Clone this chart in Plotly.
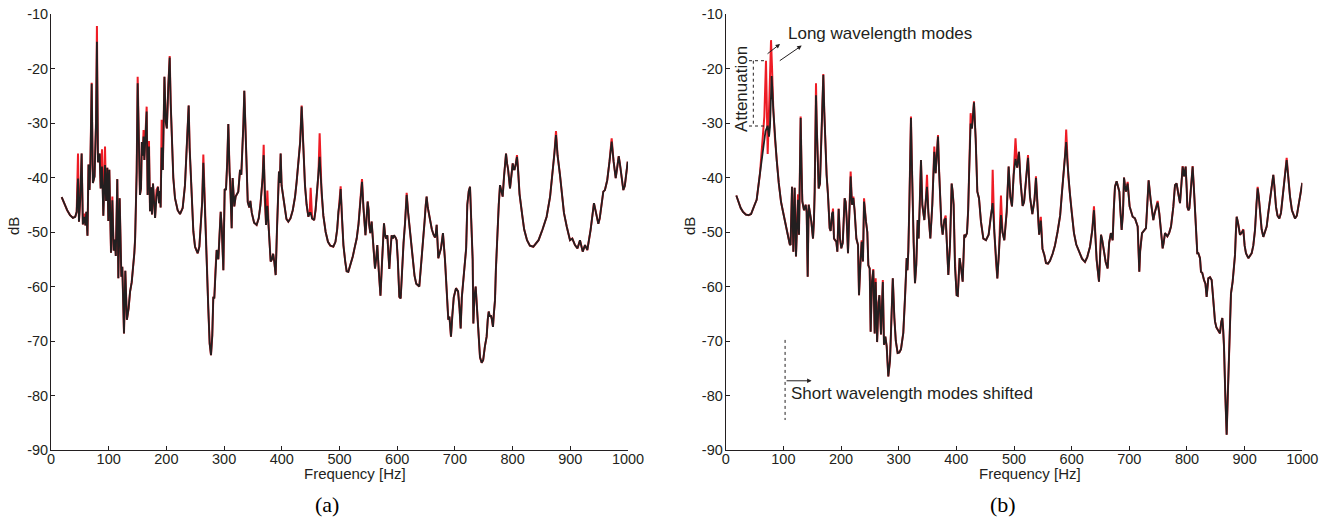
import plotly.graph_objects as go

# ---------------- Data: panel (a) ----------------
freq_a = [18.5, 23, 28, 33, 38, 42, 44.5, 46.8, 48.5, 50.5, 53.1, 55.2, 57.8, 59.6, 61.3, 63.2, 65.0, 66.8, 68.3,
          70.5, 72.6, 75.5, 78.0, 79.6, 81.4, 84.3, 86.1, 88.4, 90.7, 93.6, 95.5, 97.6, 99.4, 101.1, 104.0, 106.3,
          108.6, 110.9, 112.3, 114.9, 116.7, 119.0, 121.9, 123.6, 126.5, 128.8, 131.5, 134.5, 137.0, 139.9, 141.5,
          144.4, 145.8, 147.2, 148.5, 150.2, 152.5, 154.2, 156.0, 157.4, 159.0, 160.4, 161.8, 163.5, 165.8, 167.5,
          169.8, 171.6, 173.4, 175.0, 176.8, 178.4, 180.4, 182.8, 185.4, 187.2, 189.0, 190.0, 191.8, 193.8, 196.6,
          198.9, 200.8, 203.4, 205.7, 207.5, 209.1, 212, 214.9, 219.5, 223.6, 228.2, 232.2, 235.7, 238.6, 240.3,
          243.8, 246.7, 249.6, 254.2, 257.1, 259.4, 262.0, 264.0, 266.9, 270.5, 272.6, 275.0, 277.3, 279.5, 281.3,
          283.0, 285.0, 287.1, 290.0, 292.0, 294.1, 296.0, 298.7, 301.0, 303.3, 305.5, 307.3, 309.5, 310.5, 313.1,
          314.8, 317.7, 320.0, 324.6, 327.6, 329.8, 331.5, 333.5, 335.0, 336.8, 339.0, 341.0, 343.7, 345.5, 348,
          352, 356.4, 360, 363, 365.0, 366.8, 368.6, 370.5, 372.7, 375.0, 377, 378.5, 380.7, 383, 385.0, 387,
          389.4, 391.5, 393, 395.1, 396.6, 398.0, 399.7, 402.6, 405, 408, 411.3, 415, 419, 423, 425.7, 429, 431.8,
          434.4, 436.5, 438.5, 440.2, 443, 446, 448.4, 450.0, 452.5, 456.1, 458.5, 461.3, 463.5, 465.6, 467.5,
          469.0, 472, 476, 480, 484, 489.3, 493, 496, 498.0, 500.3, 502.0, 504, 506.8, 510, 512.4, 515.3, 519,
          523, 526, 529.8, 533, 535.5, 537.5, 539.0, 541.5, 543, 545.0, 547.5, 548.8, 550.5, 551.5, 553.4, 555.7,
          558.6, 561.5, 563.5, 565.5, 568, 571.0, 573.5, 575.5, 577.1, 579, 580.6, 582.9, 584.5, 586.3, 588.5,
          590.4, 592.5, 594.4, 597, 599.0, 601, 603.7, 606.0, 608.5, 611, 613.5, 616.4, 619, 621.0, 624, 626.8,
          630, 633, 636, 638.3, 641, 643.5, 645.3, 647.5, 649.5, 651.0, 653, 656.8, 660, 663, 665.5, 667.0, 668.4,
          670, 671.2, 675.9, 679.3, 682.8, 685.5, 688.6, 690.5, 693.2, 695.5, 698, 701.9, 705.5, 708, 710.0, 712,
          714.0, 716.5, 719.5, 721.5, 724, 726.2, 728.5, 730.8, 732.0, 733.8, 736.0, 738.5, 741, 743.5, 746.4,
          749, 752, 755.0, 757, 758.6, 760.5, 762.5, 764, 766.0, 767.5, 769.5, 771, 772.4, 774, 776, 778.2, 780.5,
          782.8, 785, 788.6, 790.5, 792.1, 795.5, 797.5, 800.2, 802, 803.5, 805.5, 807.6, 809.5, 812, 816.8, 820,
          825, 830, 835.9, 842, 845, 852, 859, 865, 869.4, 872.5, 875.2, 878, 882.1, 886, 889, 893.8, 896.5,
          899.5, 903.5, 908.1, 912.5, 916.8, 921.5, 925.5, 929.5, 935.2, 941.0, 944.5, 948.6, 951, 955, 957.2,
          960, 964, 968, 971.7, 975, 978.7, 981.5, 983.9, 986, 988.5, 991.9, 994.5, 997, 999.5]
db_a = [-43.6, -44.9, -46.0, -46.9, -47.4, -47.2, -46.3, -40.2, -48.1, -44.3, -35.6, -48.6, -47.2, -48.8, -46.3, -50.7,
        -37.6, -42.3, -37.4, -22.8, -41.0, -39.8, -30.0, -15.1, -37.2, -35.6, -42.0, -38.0, -47.0, -37.7, -44.3,
        -38.2, -48.0, -38.6, -53.8, -44.2, -53.4, -51.4, -54.4, -40.3, -58.5, -43.8, -58.2, -56.4, -68.6, -57.1,
        -66.1, -64.0, -61.0, -59.2, -57.5, -53.9, -51.2, -45.5, -38.9, -22.7, -38.0, -43.2, -42.0, -33.5, -36.0,
        -32.5, -36.8, -33.5, -27.9, -43.2, -34.3, -46.2, -41.8, -46.8, -41.1, -44.0, -47.4, -43.5, -41.7, -44.7,
        -42.5, -45.5, -34.5, -38.6, -21.5, -29.8, -31.0, -23.0, -18.0, -26.5, -32.8, -40.1, -43.8, -46.0, -46.7,
        -45.6, -41.4, -34.0, -26.8, -34.6, -43.8, -49.9, -52.7, -53.9, -52.7, -48.7, -44.5, -37.3, -47.5, -57.0,
        -64.0, -70.5, -72.6, -69.0, -61.9, -62.2, -57.0, -53.3, -55.0, -50.0, -46.3, -49.2, -57.0, -42.1, -42.3,
        -37.0, -30.2, -39.0, -40.8, -49.3, -40.1, -45.3, -43.5, -42.6, -38.6, -39.5, -36.0, -30.0, -24.1, -31.0,
        -40.4, -44.5, -45.5, -44.3, -46.5, -48.3, -48.7, -47.5, -45.0, -42.6, -40.0, -35.9, -44.0, -48.7, -45.2,
        -48.5, -52.0, -55.4, -55.0, -54.0, -55.5, -57.9, -50.0, -44.5, -38.9, -41.0, -35.6, -41.5, -43.9, -46.0,
        -47.6, -48.1, -47.5, -46.0, -43.5, -40.8, -37.0, -33.5, -27.0, -33.0, -39.0, -41.5, -45.0, -47.2, -46.5,
        -46.5, -47.5, -47.8, -46.0, -42.6, -39.5, -36.2, -40.0, -43.0, -47.0, -50.0, -51.8, -52.5, -52.7, -51.8,
        -49.5, -46.3, -44.5, -42.1, -47.0, -52.4, -55.5, -57.2, -57.3, -56.0, -54.5, -53.0, -51.2, -48.5, -45.5,
        -42.5, -40.8, -45.5, -48.5, -50.6, -46.5, -44.4, -46.0, -48.7, -50.2, -48.1, -52.4, -56.7, -55.0, -52.4,
        -57.0, -61.7, -56.0, -51.0, -48.4, -50.5, -51.2, -50.6, -53.0, -56.8, -53.0, -50.6, -51.2, -50.6, -51.0,
        -51.5, -55.0, -61.9, -62.2, -56.0, -52.0, -48.5, -43.2, -46.5, -48.7, -52.5, -55.1, -58.0, -59.5, -59.9,
        -60.0, -56.5, -52.5, -50.9, -48.0, -45.0, -43.5, -45.5, -48.0, -49.5, -50.5, -51.0, -50.2, -48.7, -52.0,
        -54.8, -53.0, -50.2, -55.1, -61.0, -66.1, -65.5, -69.2, -65.4, -62.0, -60.3, -60.9, -64.0, -67.7, -62.0,
        -59.4, -57.5, -53.0, -45.0, -42.5, -41.7, -48.0, -55.1, -66.8, -62.0, -60.0, -65.0, -70.0, -73.0, -74.0,
        -73.5, -71.0, -69.2, -66.0, -64.6, -65.5, -65.3, -66.0, -67.4, -65.0, -62.5, -57.0, -53.3, -50.0, -45.0,
        -41.4, -42.5, -43.5, -40.0, -35.6, -37.5, -38.4, -42.0, -40.0, -37.4, -38.5, -38.5, -37.5, -36.2, -38.6,
        -43.0, -47.0, -49.5, -51.5, -52.5, -52.7, -52.0, -51.5, -49.5, -47.2, -43.5, -39.2, -35.5, -32.2, -36.0,
        -39.5, -44.0, -46.5, -49.0, -50.5, -51.5, -51.2, -52.4, -53.0, -51.5, -53.6, -52.4, -53.3, -49.6, -44.7,
        -46.5, -48.5, -47.5, -44.5, -42.6, -42.3, -40.5, -37.0, -33.4, -37.0, -40.1, -38.0, -36.1, -37.5, -40.0,
        -42.3, -41.5, -39.5, -37.1]
# red curve peaks (frequency -> dB) where it rises above the black curve
red_peaks_a = {46.8: -35.6, 57.8: -46.6, 70.5: -22.6, 79.6: -12.2, 88.4: -34.8, 93.6: -34.3, 106.3: -43.5,
               150.2: -21.5, 160.4: -31.3, 165.8: -27.0, 169.8: -33.3, 182.8: -42.3, 191.8: -29.4, 205.7: -17.7,
               264.0: -35.8, 368.6: -34.0, 375.0: -42.4, 434.4: -26.8, 450.0: -41.9, 465.6: -31.9, 502.0: -41.6,
               539.0: -40.3, 616.4: -42.8, 807.6: -35.9, 875.2: -31.5, 971.7: -32.8}

# ---------------- Data: panel (b) ----------------
freq_b = [18.4, 22, 26, 30, 35, 39.8, 44, 50.2, 53.7, 59.5, 65.3, 69, 72.8, 75.1, 76.8, 79.7, 82.6, 85.5, 88.4, 92,
          96, 100, 104, 108, 111, 112.5, 115.0, 117.3, 119.6, 121.9, 123.7, 125.4, 127.1, 128.7, 130.0, 131.5,
          132.9, 135.8, 138.7, 140.4, 142.2, 143.9, 146, 148.5, 151.4, 153, 154.3, 155.5, 156.6, 157.8, 158.9,
          161.2, 163.5, 165.9, 167.5, 169.3, 171, 172.8, 175, 177.4, 180.3, 182, 184.4, 186.1, 187.8, 190, 191.9,
          193.6, 195.9, 198.2, 200.5, 203, 206.3, 208, 209.8, 212.1, 214.4, 216.7, 219.0, 221.4, 223.5, 226.6,
          229.5, 231.2, 233.5, 235.8, 238.1, 239.9, 243.3, 245.6, 247.4, 249.7, 251.4, 253.7, 256.0, 258.4,
          260.1, 262.6, 265, 266.6, 269.3, 272.5, 274.5, 276.9, 279.2, 282.0, 285.0, 287.8, 289.8, 292.5, 295,
          298.2, 301.1, 304, 308.0, 311, 313.9, 315.2, 316.7, 318.5, 320, 321.3, 322.8, 324.2, 326, 328.3, 330.5,
          332.9, 334.6, 336.5, 338.7, 341.0, 344.5, 347.3, 349.1, 351.4, 354.9, 358.3, 360, 361.8, 364.1, 366.3,
          368.2, 370, 371.6, 374, 376.3, 379.1, 381.5, 383.5, 386.1, 389.0, 391.9, 393.5, 395.3, 397.6, 400.5,
          402.5, 404.5, 405.7, 408, 411.0, 413.8, 416, 418.5, 420.5, 421.9, 423.5, 424.8, 427.1, 429, 430.6, 432,
          433.5, 436.4, 439.3, 442.7, 446.8, 451.4, 456, 460.1, 461.8, 463.0, 465.9, 468.8, 471.1, 474.0, 476,
          477.4, 480, 483.2, 487.3, 490.7, 493.6, 496.5, 499.4, 502.6, 505.5, 508.6, 511.5, 515.0, 517.5, 519.5,
          522, 524.3, 527.7, 531.8, 535.5, 538.1, 541.3, 543.6, 546.5, 549.4, 552.6, 555.5, 559, 562.4, 567, 571,
          575.5, 580, 582.6, 586.7, 588.8, 590.5, 592.5, 594.2, 597, 600, 604, 608, 614.4, 618, 623.1, 627, 631.8,
          635.8, 638.7, 641, 643.3, 647.4, 650.9, 653, 656.6, 659, 662.4, 665, 668, 671.1, 673, 675.1, 678, 680.5,
          682.7, 684.5, 686.7, 689, 690.8, 692.5, 694.2, 697.1, 700.5, 705.8, 709.8, 714.5, 716, 717.3, 718.8, 722,
          728.9, 731, 733.5, 737.0, 741.6, 744, 746.3, 749.1, 752.0, 754.3, 757.8, 759.5, 761.9, 766, 769, 772.3,
          776.3, 779.2, 782, 785, 787.9, 790.5, 792.5, 795, 797.7, 799.5, 800.6, 802.5, 804.1, 806.5, 809.8, 812,
          813.9, 816, 817.9, 819.7, 822.6, 824.3, 826.5, 829.5, 832, 834.1, 835.5, 837.0, 840, 842.8, 844.5, 845.7,
          847, 848.6, 851, 854.4, 857.2, 859.5, 861.3, 862.8, 864.2, 866.5, 868.8, 870.8, 872.9, 874.5, 876.3,
          879.2, 881, 883.3, 884.8, 886.2, 888.5, 891.9, 894.5, 897.7, 900, 902.3, 906.4, 912.2, 915, 918.0, 920.5,
          922.6, 924.5, 926.6, 929.5, 932.4, 935, 938.2, 941, 944.0, 947, 949.7, 951.5, 954.4, 957, 960.2, 963,
          965.9, 969, 972.9, 975.5, 978.7, 982, 987.3, 990.5, 993.1, 997, 1000]
db_b = [-43.3, -44.5, -45.6, -46.3, -46.8, -46.9, -46.7, -45.0, -44.1, -39.2, -34.3, -31.5, -30.5, -32.5, -30.7, -21.4,
        -27.6, -33.0, -36.8, -41.0, -44.5, -46.6, -48.8, -50.8, -52.2, -52.4, -41.7, -53.6, -41.9, -54.5, -46.9,
        -44.1, -50.5, -40.0, -29.1, -38.0, -44.4, -46.0, -45.0, -46.3, -58.2, -45.0, -46.3, -48.1, -51.2, -48.0,
        -42.6, -33.0, -24.9, -30.0, -35.3, -42.0, -41.1, -34.0, -28.0, -21.2, -28.0, -34.0, -39.5, -43.2, -49.3,
        -49.8, -46.6, -46.3, -51.2, -51.5, -51.8, -53.6, -45.8, -51.2, -53.0, -52.0, -43.8, -44.5, -47.5, -53.9,
        -47.5, -39.8, -45.0, -43.8, -46.0, -51.2, -52.4, -61.6, -56.1, -51.8, -55.4, -44.4, -48.1, -50.0, -56.1,
        -56.7, -68.3, -59.1, -57.0, -68.6, -59.2, -70.2, -63.0, -61.6, -68.8, -59.2, -70.7, -69.2, -71.0, -76.5,
        -73.5, -63.1, -58.5, -65.8, -70.0, -72.2, -72.1, -71.5, -68.5, -62.0, -54.8, -57.0, -53.5, -45.0, -37.0,
        -29.1, -37.0, -45.0, -52.0, -59.4, -56.0, -47.8, -51.2, -45.0, -36.8, -45.0, -47.8, -43.8, -41.7, -46.3,
        -51.2, -45.0, -40.0, -35.3, -39.2, -36.0, -32.5, -38.5, -43.8, -48.5, -50.5, -47.8, -47.5, -51.5, -57.9,
        -52.4, -41.1, -42.5, -45.0, -56.4, -61.6, -61.7, -58.0, -54.8, -56.5, -59.1, -50.5, -50.8, -50.2, -46.0,
        -40.2, -34.0, -30.1, -31.0, -28.5, -26.2, -29.5, -32.8, -42.6, -43.8, -48.1, -51.2, -51.5, -50.5, -46.9,
        -45.8, -44.7, -50.0, -55.4, -58.5, -53.6, -49.0, -46.9, -50.0, -51.5, -46.3, -38.0, -43.5, -45.3, -39.5,
        -36.6, -38.2, -35.3, -40.9, -45.2, -44.5, -42.6, -39.0, -36.4, -43.5, -46.7, -44.1, -40.1, -45.2, -50.5,
        -47.9, -53.1, -54.2, -55.7, -55.8, -55.3, -54.0, -52.5, -50.0, -47.0, -43.5, -38.5, -35.6, -33.5, -37.0,
        -39.9, -43.0, -46.3, -50.2, -52.3, -53.9, -54.9, -55.5, -54.6, -52.7, -49.6, -46.0, -50.2, -55.1, -59.1,
        -50.5, -51.5, -54.5, -55.5, -56.7, -52.0, -50.2, -51.5, -46.0, -41.7, -40.7, -41.5, -42.6, -46.0, -49.6,
        -46.5, -40.0, -41.5, -42.6, -41.1, -45.3, -47.2, -47.5, -49.0, -52.5, -57.3, -53.5, -50.2, -49.3, -45.0,
        -40.5, -44.1, -47.8, -46.5, -45.4, -44.6, -46.6, -49.6, -53.0, -52.0, -50.2, -50.8, -50.2, -49.0, -45.4,
        -41.4, -41.1, -43.0, -44.7, -41.0, -38.0, -39.8, -38.0, -42.0, -45.4, -46.0, -45.7, -42.5, -38.0, -42.0,
        -45.4, -50.0, -53.9, -53.9, -54.8, -57.3, -57.5, -58.8, -59.5, -61.9, -60.0, -58.5, -58.3, -58.8, -61.0,
        -62.5, -64.5, -66.4, -67.5, -68.0, -68.6, -66.5, -65.8, -68.0, -71.0, -80.0, -87.2, -80.0, -71.7, -65.0,
        -61.3, -59.1, -56.5, -54.2, -50.0, -47.2, -48.3, -50.5, -50.2, -49.6, -52.5, -53.9, -54.8, -53.9, -52.5,
        -49.6, -45.0, -42.0, -43.5, -46.6, -49.5, -50.9, -50.0, -49.0, -46.5, -44.1, -41.5, -39.5, -41.5, -45.4,
        -47.0, -47.5, -46.5, -44.1, -40.5, -36.8, -40.0, -43.5, -46.0, -47.5, -47.0, -45.4, -43.0, -41.0]
red_peaks_b = {125.4: -43.1, 130.0: -28.8, 156.6: -22.7, 169.3: -21.0, 186.1: -45.7, 195.9: -45.7, 216.7: -38.9,
               221.4: -43.5, 235.8: -51.5, 239.9: -43.8, 256.0: -56.8, 260.1: -58.5, 272.5: -58.8, 321.3: -28.8,
               349.1: -39.5, 361.8: -34.3, 368.2: -32.2, 381.5: -47.0, 397.6: -55.1, 424.8: -28.2, 430.6: -26.0,
               463.0: -38.6, 477.4: -43.3, 502.6: -32.8, 524.3: -35.9, 538.1: -39.8, 546.5: -47.2, 590.5: -31.2,
               638.7: -45.3, 697.1: -40.8, 749.1: -44.3, 792.5: -37.9, 809.8: -37.9, 897.7: -49.5, 922.6: -41.7,
               972.9: -36.4}
# red curve around the long-wavelength modes (replaces black in this band)
red_long_f = [59.5, 63, 67, 69.9, 71.3, 72.8, 75.7, 78.6, 80.3, 82.6]
red_long_db = [-39.2, -35.0, -28.8, -18.6, -28.0, -35.7, -25.8, -14.8, -19.7, -27.6]

x_ticks = [0, 100, 200, 300, 400, 500, 600, 700, 800, 900, 1000]
y_ticks = [-90, -80, -70, -60, -50, -40, -30, -20, -10]


def red_curve(f, db, peaks, seg_f=None, seg_db=None):
    rf, ry = [], []
    for x, v in zip(f, db):
        if seg_f and seg_f[0] <= x <= seg_f[-1]:
            continue
        rf.append(x)
        ry.append(peaks.get(x, v))
    if seg_f:
        pairs = sorted(list(zip(rf, ry)) + list(zip(seg_f, seg_db)))
        rf = [p[0] for p in pairs]
        ry = [p[1] for p in pairs]
    return rf, ry


# the page's default body margin is removed (post_script below), so figure pixels = page pixels
W, H = 1342, 519
INK = "#231f20"
RED = "#ee1c25"


def P(px, py):
    return px / W, 1 - py / H


fig = go.Figure()
ra_f, ra_y = red_curve(freq_a, db_a, red_peaks_a)
rb_f, rb_y = red_curve(freq_b, db_b, red_peaks_b, red_long_f, red_long_db)
fig.add_trace(go.Scatter(x=ra_f, y=ra_y, mode="lines", line=dict(color=RED, width=2), xaxis="x", yaxis="y"))
fig.add_trace(go.Scatter(x=freq_a, y=db_a, mode="lines", line=dict(color=INK, width=1.8), xaxis="x", yaxis="y"))
fig.add_trace(go.Scatter(x=rb_f, y=rb_y, mode="lines", line=dict(color=RED, width=2), xaxis="x2", yaxis="y2"))
fig.add_trace(go.Scatter(x=freq_b, y=db_b, mode="lines", line=dict(color=INK, width=1.8), xaxis="x2", yaxis="y2"))

ydom = [P(0, 450)[1], P(0, 14)[1]]
tickfont = dict(family="Liberation Sans, Arial, sans-serif", size=14.5, color=INK)
xcommon = dict(range=[0, 1000], tickvals=x_ticks, ticktext=[str(v) for v in x_ticks], ticks="inside", ticklen=4,
               tickcolor=INK, showline=True, linecolor=INK, linewidth=1, showgrid=False, zeroline=False,
               tickfont=tickfont, fixedrange=True, automargin=False, ticklabelstandoff=-4,
               ticklabeloverflow="allow")
ycommon = dict(range=[-90, -10], tickvals=y_ticks, ticktext=[str(v) for v in y_ticks], ticks="inside", ticklen=4,
               tickcolor=INK, showline=True, linecolor=INK, linewidth=1, showgrid=False, zeroline=False,
               tickfont=tickfont, domain=ydom, fixedrange=True, automargin=False, ticklabelstandoff=-1,
               ticklabeloverflow="allow")

fig.update_layout(
    width=W, height=H, margin=dict(l=0, r=0, t=0, b=0, autoexpand=False), paper_bgcolor="white",
    plot_bgcolor="white", showlegend=False, hovermode=False,
    xaxis=dict(domain=[P(51, 0)[0], P(628, 0)[0]], anchor="y", **xcommon),
    yaxis=dict(anchor="x", **ycommon),
    xaxis2=dict(domain=[P(725.7, 0)[0], P(1302.3, 0)[0]], anchor="y2", **xcommon),
    yaxis2=dict(anchor="x2", **ycommon),
)

lab = dict(family="Liberation Sans, Arial, sans-serif", size=15, color=INK)
big = dict(family="Liberation Sans, Arial, sans-serif", size=17, color=INK)
serif = dict(family="Liberation Serif, Times New Roman, serif", size=22, color="black")

ann = []
for (px, py, txt, font, ang) in [(355, 473, "Frequency [Hz]", lab, 0), (1030, 473, "Frequency [Hz]", lab, 0),
                                  (14, 226, "dB", lab, -90), (690, 226, "dB", lab, -90),
                                  (327, 504, "(a)", serif, 0), (1003, 504, "(b)", serif, 0)]:
    x, y = P(px, py)
    ann.append(dict(x=x, y=y, xref="paper", yref="paper", text=txt, showarrow=False, font=font, textangle=ang,
                    xanchor="center", yanchor="middle"))

# panel (b) annotations in data coordinates
ann.append(dict(x=104, y=-13.5, xref="x2", yref="y2", text="Long wavelength modes", showarrow=False, font=big,
                xanchor="left", yanchor="middle"))
ann.append(dict(x=27.7, y=-23.8, xref="x2", yref="y2", text="Attenuation", showarrow=False, font=big,
                textangle=-90, xanchor="center", yanchor="middle"))
ann.append(dict(x=110, y=-79.6, xref="x2", yref="y2", text="Short wavelength modes shifted", showarrow=False,
                font=big, xanchor="left", yanchor="middle"))
for (hx, hy, tx, ty) in [(94.3, -15.5, 70, -17.5), (131.8, -15.8, 91.2, -18.75), (149, -77.3, 103, -77.3)]:
    ann.append(dict(x=hx, y=hy, ax=tx, ay=ty, xref="x2", yref="y2", axref="x2", ayref="y2", text="",
                    showarrow=True, arrowhead=2, arrowsize=0.9, arrowwidth=1, arrowcolor=INK))
fig.update_layout(annotations=ann)

dot = dict(color=INK, width=1, dash="dot")
shapes = [
    dict(type="line", xref="x2", yref="y2", x0=40.4, x1=71, y0=-18.57, y1=-18.57, line=dot),
    dict(type="line", xref="x2", yref="y2", x0=40.4, x1=71, y0=-30.55, y1=-30.55, line=dot),
    dict(type="line", xref="x2", yref="y2", x0=47.9, x1=47.9, y0=-18.57, y1=-30.55, line=dot),
    dict(type="line", xref="x2", yref="y2", x0=103, x1=103, y0=-69.8, y1=-84.5, line=dot),
]
fig.update_layout(shapes=shapes)

fig.write_html("out.html", config={"displayModeBar": False, "staticPlot": True},
               post_script="document.body.style.margin='0px';document.body.style.overflow='hidden';")
